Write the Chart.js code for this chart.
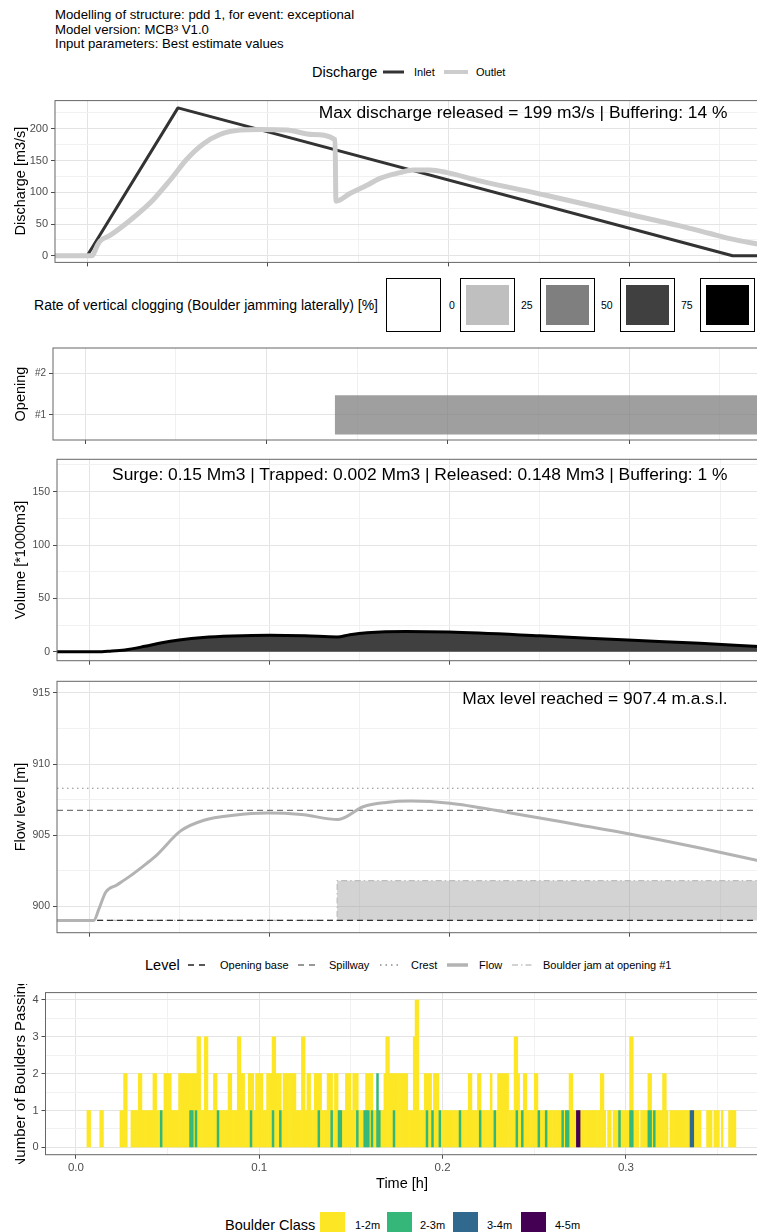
<!DOCTYPE html>
<html>
<head>
<meta charset="utf-8">
<script src="https://cdn.jsdelivr.net/npm/chart.js@4.4.1/dist/chart.umd.min.js"></script>
<style>
html,body{margin:0;padding:0;background:#fff;overflow:hidden;width:757px;height:1232px;}
#root{position:relative;width:757px;height:1232px;overflow:hidden;font-family:"Liberation Sans",Arial,Helvetica,sans-serif;color:#000;background:#fff;}
#root canvas{position:absolute;left:0;}
.t{position:absolute;white-space:nowrap;line-height:1;}
.r{position:absolute;white-space:nowrap;line-height:1;transform:translate(-50%,-50%) rotate(-90deg);}
.box{position:absolute;box-sizing:border-box;}
svg.key{position:absolute;overflow:visible;}
</style>
</head>
<body>
<div id="root"></div>
<script>
// ================= DATA =================
const titleLines = [
  "Modelling of structure: pdd 1, for event: exceptional",
  "Model version: MCB\u00B3 V1.0",
  "Input parameters: Best estimate values"
];

// time axis [h]
const xTicks = [0, 0.1, 0.2, 0.3];
const xMinorTicks = [0.05, 0.15, 0.25, 0.35];

// Discharge panel
const inletTime = [0, 0.0502, 0.357, 0.3716];
const inletQ    = [0, 233, 0, 0];
const outletTime = [-0.0178, 0.0027, 0.0054, 0.0071, 0.0126, 0.0253, 0.0364, 0.0458, 0.0552, 0.0640, 0.0734, 0.0845, 0.0956, 0.1105, 0.1249, 0.1371, 0.1376, 0.1453, 0.1547, 0.1619, 0.1730, 0.1802, 0.1896, 0.1990, 0.2172, 0.2543, 0.3002, 0.3279, 0.3445, 0.3555, 0.3716];
const outletQ    = [0, 0, 15, 23, 32, 59.5, 88, 119, 152.5, 175.8, 191, 198, 199, 198, 191, 183, 86, 98, 111, 122, 131, 135, 135, 131, 118, 95, 65, 47, 35, 27, 18];
const dischargeTicks = [0, 50, 100, 150, 200];
const dischargeMinor = [25, 75, 125, 175, 225];

// Clogging panel
const openingLabels = ["#1", "#2"];
const clogOpening = 1;
const clogStart = 0.1376;
const clogEnd = 0.3716;
const clogLegendValues = ["0", "25", "50", "75", "100"];
const clogLegendColors = ["#ffffff", "#bfbfbf", "#7f7f7f", "#404040", "#000000"];

// Volume panel [*1000 m3]
const volumeTime = [-0.0178, 0.0044, 0.0116, 0.0199, 0.0310, 0.0404, 0.0499, 0.0632, 0.0793, 0.1003, 0.1198, 0.1376, 0.1447, 0.1541, 0.1758, 0.1996, 0.2501, 0.2989, 0.3388, 0.3716];
const volume     = [0, 0, 0.6, 1.8, 5.2, 8.5, 11, 13.4, 14.8, 15.5, 15.0, 13.9, 16, 17.8, 19, 18.5, 15, 11, 8, 5.0];
const volumeTicks = [0, 50, 100, 150];
const volumeMinor = [25, 75, 125, 175];

// Flow level panel [m a.s.l.]
const flowTime  = [-0.0178, 0.0027, 0.0054, 0.0093, 0.0154, 0.0225, 0.0318, 0.0375, 0.0508, 0.0637, 0.0801, 0.0989, 0.1177, 0.1381, 0.1520, 0.1647, 0.1785, 0.2001, 0.2322, 0.2726, 0.2991, 0.3389, 0.3716];
const flowLevel = [899.0, 899.0, 899.8, 901.0, 901.5, 902.1, 903.0, 903.6, 905.3, 906.05, 906.4, 906.55, 906.45, 906.1, 907.0, 907.3, 907.4, 907.25, 906.6, 905.7, 905.1, 904.1, 903.2];
const levelOpeningBase = 899.0;
const levelSpillway = 906.74;
const levelCrest = 908.3;
const jamTime  = [-0.0178, 0.1376, 0.1376, 0.3716];
const jamLevel = [899.0, 899.0, 901.8, 901.8];
const levelTicks = [900, 905, 910, 915];
const levelMinor = [902.5, 907.5, 912.5];

// Boulder panel: number of boulders per 0.001 h bin
const binWidth = 0.001;
const boulderTotal = [
0,0,0,0,0,0,1,1,0,0,
0,0,0,1,1,0,0,0,0,0,
0,0,0,0,1,1,2,2,0,0,
1,1,1,1,2,2,1,1,1,1,
1,1,2,2,1,1,1,1,2,2,
2,2,1,1,1,1,2,2,2,2,
2,2,2,2,2,2,3,3,1,1,
3,3,1,1,1,2,2,1,1,1,
1,1,1,2,2,1,1,1,3,3,
2,2,1,1,2,2,2,1,2,2,
2,2,1,1,2,2,2,3,3,2,
2,2,1,2,2,2,2,2,2,2,
1,1,1,3,3,1,2,2,1,1,
2,2,2,2,1,1,1,2,2,2,
1,2,2,1,1,1,1,2,2,2,
1,2,2,2,1,1,1,1,2,2,
2,2,1,1,2,1,1,1,2,3,
3,2,2,2,2,2,2,2,2,2,
2,1,1,1,3,4,4,1,1,1,
2,2,2,2,1,2,2,2,1,1,
1,1,1,1,1,1,1,1,1,1,
1,1,1,1,2,2,1,1,1,2,
2,1,1,1,1,1,2,1,1,1,
2,2,2,2,2,2,1,1,1,3,
3,2,1,1,2,2,1,1,1,1,
2,2,1,1,1,1,1,1,1,1,
1,1,1,1,1,1,1,1,1,2,
2,1,1,1,1,1,1,1,1,1,
1,1,1,1,1,1,2,2,1,0,
1,1,0,1,1,1,1,1,1,1,
1,1,3,3,1,1,1,0,1,1,
1,1,2,2,1,1,1,1,1,1,
2,2,1,0,1,1,1,1,1,1,
1,1,1,1,1,1,1,1,1,1,
1,0,0,0,1,1,1,0,1,1,
1,0,1,0,0,0,1,1,1,1,
0,0,0,0,0,0,0,0,0,0
];
const bins23 = [46,62,63,65,77,95,107,111,132,139,143,144,153,157,158,159,161,164,164,165,173,191,194,198,209,220,228,240,243,252,256,265,267,268,296,302,303,312,313,315];
const bins34 = [335,336];
const bins45 = [273,274];
const boulderClasses = ["1-2m", "2-3m", "3-4m", "4-5m"];
const boulderColors  = ["#FDE725", "#35B779", "#31688E", "#440154"];
const boulderTicks = [0, 1, 2, 3, 4];
const boulderMinor = [0.5, 1.5, 2.5, 3.5];

// ================= HELPERS =================
const root = document.getElementById('root');
function txt(s, x, y, size, opts) {
  opts = opts || {};
  const d = document.createElement('div');
  d.className = 't';
  d.textContent = s;
  d.style.fontSize = size + 'px';
  d.style.top = (y - size / 2) + 'px';
  if (opts.align === 'right') d.style.right = (757 - x) + 'px';
  else if (opts.align === 'center') { d.style.left = x + 'px'; d.style.transform = 'translateX(-50%)'; }
  else d.style.left = x + 'px';
  if (opts.color) d.style.color = opts.color;
  (opts.parent || root).appendChild(d);
  return d;
}
function rtxt(s, cx, cy, size, parent) {
  const d = document.createElement('div');
  d.className = 'r';
  d.textContent = s;
  d.style.fontSize = size + 'px';
  d.style.left = cx + 'px';
  d.style.top = cy + 'px';
  (parent || root).appendChild(d);
  return d;
}
function keyLine(x1, x2, y, color, width, dash) {
  const ns = 'http://www.w3.org/2000/svg';
  const s = document.createElementNS(ns, 'svg');
  s.setAttribute('class', 'key');
  s.setAttribute('width', x2 - x1);
  s.setAttribute('height', 10);
  s.style.left = x1 + 'px';
  s.style.top = (y - 5) + 'px';
  const l = document.createElementNS(ns, 'line');
  l.setAttribute('x1', 0); l.setAttribute('x2', x2 - x1);
  l.setAttribute('y1', 5); l.setAttribute('y2', 5);
  l.setAttribute('stroke', color);
  l.setAttribute('stroke-width', width);
  if (dash) l.setAttribute('stroke-dasharray', dash);
  s.appendChild(l);
  root.appendChild(s);
}
function box(x, y, w, h, bg, border) {
  const d = document.createElement('div');
  d.className = 'box';
  d.style.left = x + 'px'; d.style.top = y + 'px';
  d.style.width = w + 'px'; d.style.height = h + 'px';
  d.style.background = bg;
  if (border) d.style.border = border;
  root.appendChild(d);
  return d;
}

// ================= CHART SETUP =================
Chart.defaults.font.family = '"Liberation Sans", Arial, sans-serif';
Chart.defaults.color = '#4d4d4d';

const borderPlugin = {
  id: 'panelBorder',
  afterDatasetsDraw(chart) {
    const a = chart.chartArea, c = chart.ctx;
    c.save();
    c.strokeStyle = '#666666';
    c.lineWidth = 1;
    c.strokeRect(a.left, a.top, a.right - a.left, a.bottom - a.top);
    c.restore();
  }
};

const near = (arr, v) => arr.some(t => Math.abs(t - v) < 1e-9);
const pts = (xs, ys) => xs.map((x, i) => ({ x: x, y: ys[i] }));

function makePanel(p) {
  const cTop = Math.floor(p.top) - 8;
  const xH = p.xLabels ? 28 : 8;
  const H = Math.ceil(p.bottom - cTop + xH);
  const padBottom = H - xH - (p.bottom - cTop);
  const cv = document.createElement('canvas');
  cv.width = 760; cv.height = H;
  cv.style.width = '760px'; cv.style.height = H + 'px';
  cv.style.top = cTop + 'px';
  root.appendChild(cv);
  const xVals = xTicks.concat(xMinorTicks).sort((a, b) => a - b);
  const yVals = p.yMajor.concat(p.yMinor || []).sort((a, b) => a - b);
  const gridX = {
    offset: false, drawTicks: true, tickLength: 4, lineWidth: 1, tickWidth: 1,
    color: c => (c.tick && near(xTicks, c.tick.value)) ? '#e4e4e4' : '#f1f1f1',
    tickColor: c => (c.tick && near(xTicks, c.tick.value)) ? '#4d4d4d' : 'rgba(0,0,0,0)'
  };
  const gridY = {
    offset: false, drawTicks: true, tickLength: 4, lineWidth: 1, tickWidth: 1,
    color: c => (c.tick && near(p.yMajor, c.tick.value)) ? '#e4e4e4' : '#f1f1f1',
    tickColor: c => (c.tick && near(p.yMajor, c.tick.value)) ? '#4d4d4d' : 'rgba(0,0,0,0)'
  };
  return new Chart(cv, {
    type: p.type || 'line',
    data: { datasets: p.datasets },
    options: {
      responsive: false, maintainAspectRatio: false, animation: false, devicePixelRatio: 1,
      events: [],
      layout: { padding: { top: p.top - cTop, left: 0, right: 1, bottom: padBottom } },
      plugins: { legend: { display: false }, tooltip: { enabled: false } },
      elements: { point: { radius: 0 }, line: { tension: 0 } },
      scales: {
        x: {
          type: 'linear', min: p.xMin, max: p.xMax, offset: false, stacked: !!p.stacked,
          afterBuildTicks: s => { s.ticks = xVals.map(v => ({ value: v })); },
          afterFit: s => { s.height = xH; },
          grid: gridX,
          border: { display: false },
          ticks: {
            display: !!p.xLabels, autoSkip: false, maxRotation: 0, minRotation: 0, padding: 2,
            font: { size: 11.5 }, color: '#4d4d4d',
            callback: v => near(xTicks, v) ? v.toFixed(1) : ''
          }
        },
        y: {
          type: 'linear', min: p.yMin, max: p.yMax, stacked: !!p.stacked,
          afterBuildTicks: s => { s.ticks = yVals.map(v => ({ value: v })); },
          afterFit: s => { s.width = p.left; },
          grid: gridY,
          border: { display: false },
          ticks: {
            autoSkip: false, padding: 3, font: { size: p.tickSize }, color: '#4d4d4d',
            callback: v => near(p.yMajor, v) ? (p.yLabel ? p.yLabel(v) : String(v)) : ''
          }
        }
      }
    },
    plugins: [borderPlugin]
  });
}

const xMinTop = -0.0178, xMaxTop = 0.3716;
const xMinBot = -0.0166, xMaxBot = 0.3726;

// ---- Panel 1: Discharge ----
makePanel({
  top: 99, bottom: 263.5, left: 55, xMin: xMinTop, xMax: xMaxTop,
  yMin: -10.5, yMax: 244.5, yMajor: dischargeTicks, yMinor: dischargeMinor, tickSize: 11,
  datasets: [
    { label: 'Outlet', data: pts(outletTime, outletQ), borderColor: '#cccccc', borderWidth: 5,
      cubicInterpolationMode: 'monotone', fill: false, borderJoinStyle: 'round' },
    { label: 'Inlet', data: pts(inletTime, inletQ), borderColor: '#333333', borderWidth: 3,
      fill: false, borderJoinStyle: 'round' }
  ]
});

// ---- Panel 2: Opening clogging ----
makePanel({
  top: 347, bottom: 441, left: 53, xMin: xMinTop, xMax: xMaxTop,
  yMin: 0.4, yMax: 2.6, yMajor: [1, 2], yMinor: [], tickSize: 10,
  yLabel: v => openingLabels[v - 1],
  datasets: [
    { label: 'Opening #1', data: [{ x: clogStart, y: clogOpening + 0.47 }, { x: clogEnd, y: clogOpening + 0.47 }],
      borderColor: 'rgba(0,0,0,0)', borderWidth: 0, fill: { value: clogOpening - 0.47 },
      backgroundColor: 'rgba(127,127,127,0.75)' }
  ]
});

// ---- Panel 3: Volume ----
makePanel({
  top: 458, bottom: 661.7, left: 57, xMin: xMinTop, xMax: xMaxTop,
  yMin: -8.3, yMax: 180.3, yMajor: volumeTicks, yMinor: volumeMinor, tickSize: 10.5,
  datasets: [
    { label: 'Volume', data: pts(volumeTime, volume), borderColor: '#000000', borderWidth: 3,
      cubicInterpolationMode: 'monotone', fill: 'origin', backgroundColor: '#404040' }
  ]
});

// ---- Panel 4: Flow level ----
makePanel({
  top: 680, bottom: 933.3, left: 57, xMin: xMinTop, xMax: xMaxTop,
  yMin: 898.14, yMax: 915.82, yMajor: levelTicks, yMinor: levelMinor, tickSize: 10.5,
  datasets: [
    { label: 'Flow', data: pts(flowTime, flowLevel), borderColor: '#b3b3b3', borderWidth: 3,
      cubicInterpolationMode: 'monotone', fill: false },
    { label: 'Opening base', data: [{ x: xMinTop, y: levelOpeningBase }, { x: xMaxTop, y: levelOpeningBase }],
      borderColor: '#333333', borderWidth: 1.3, borderDash: [6, 4], fill: false },
    { label: 'Spillway', data: [{ x: xMinTop, y: levelSpillway }, { x: xMaxTop, y: levelSpillway }],
      borderColor: '#777777', borderWidth: 1.3, borderDash: [6, 4], fill: false },
    { label: 'Crest', data: [{ x: xMinTop, y: levelCrest }, { x: xMaxTop, y: levelCrest }],
      borderColor: '#8a8a8a', borderWidth: 1.2, borderDash: [1.5, 3.5], fill: false },
    { label: 'Boulder jam at opening #1', data: pts(jamTime, jamLevel), borderColor: '#bdbdbd',
      borderWidth: 1.2, borderDash: [6, 3, 1.5, 3], fill: { value: levelOpeningBase },
      backgroundColor: 'rgba(150,150,150,0.42)' }
  ]
});

// ---- Panel 5: Boulders ----
const nb = boulderTotal.length;
const c23 = new Array(nb).fill(0), c34 = new Array(nb).fill(0), c45 = new Array(nb).fill(0);
bins23.forEach(b => c23[b]++);
bins34.forEach(b => c34[b]++);
bins45.forEach(b => c45[b]++);
const c12 = boulderTotal.map((n, i) => n - c23[i] - c34[i] - c45[i]);
const binSeries = arr => arr.map((n, i) => ({ x: (i + 0.5) * binWidth, y: n > 0 ? n : null }));
const barBase = { barPercentage: 1, categoryPercentage: 1, borderWidth: 0 };
makePanel({
  type: 'bar', stacked: true, xLabels: true,
  top: 991.7, bottom: 1154.7, left: 45.5, xMin: xMinBot, xMax: xMaxBot,
  yMin: -0.2, yMax: 4.2, yMajor: boulderTicks, yMinor: boulderMinor, tickSize: 11,
  datasets: [
    Object.assign({ label: boulderClasses[3], data: binSeries(c45), backgroundColor: boulderColors[3] }, barBase),
    Object.assign({ label: boulderClasses[2], data: binSeries(c34), backgroundColor: boulderColors[2] }, barBase),
    Object.assign({ label: boulderClasses[1], data: binSeries(c23), backgroundColor: boulderColors[1] }, barBase),
    Object.assign({ label: boulderClasses[0], data: binSeries(c12), backgroundColor: boulderColors[0] }, barBase)
  ]
});

// ================= TEXT, LEGENDS =================
titleLines.forEach((s, i) => txt(s, 55, 15 + i * 14.5, 13.2));

// Discharge legend
txt('Discharge', 312, 72, 14.5);
keyLine(383, 404, 72, '#333333', 3);
txt('Inlet', 414, 72, 11);
keyLine(444, 468, 72, '#cccccc', 4);
txt('Outlet', 476, 72, 11);

// annotations
txt('Max discharge released = 199 m3/s | Buffering: 14 %', 727.5, 113, 17.4, { align: 'right' });
txt('Surge: 0.15 Mm3 | Trapped: 0.002 Mm3 | Released: 0.148 Mm3 | Buffering: 1 %', 727.5, 475, 17.4, { align: 'right' });
txt('Max level reached = 907.4 m.a.s.l.', 727.5, 699, 17.4, { align: 'right' });

// Clogging legend
txt('Rate of vertical clogging (Boulder jamming laterally) [%]', 378, 305, 14, { align: 'right' });
const clogBoxX = [386, 460, 540, 620, 700];
const clogLabX = [449, 521, 601, 681, 764];
clogBoxX.forEach((x, i) => {
  box(x, 278, 55, 54, '#ffffff', '1.5px solid #000');
  box(x + 6, 285, 43, 40, clogLegendColors[i]);
  txt(clogLegendValues[i], clogLabX[i], 305, 10.5);
});

// Level legend
txt('Level', 145, 965, 14.5);
keyLine(188, 208, 965, '#222222', 1.5, '6,5');
txt('Opening base', 220, 965, 11);
keyLine(298, 318, 965, '#777777', 1.5, '6,5');
txt('Spillway', 329, 965, 11);
keyLine(380, 400, 965, '#8a8a8a', 1.5, '1.5,4');
txt('Crest', 411, 965, 11);
keyLine(447, 468, 965, '#b3b3b3', 3.5);
txt('Flow', 479, 965, 11);
keyLine(512, 532, 965, '#c4c4c4', 1.5, '6,3,1.5,3');
txt('Boulder jam at opening #1', 543, 965, 11);

// Boulder legend
txt('Boulder Class', 225, 1225, 14.5);
const bBoxX = [320, 386.5, 453, 521];
const bLabX = [355, 420, 487, 555];
boulderClasses.forEach((c, i) => {
  box(bBoxX[i], 1212, 25, 25, boulderColors[i]);
  txt(c, bLabX[i], 1225, 11);
});

// Axis titles
rtxt('Discharge [m3/s]', 20, 181, 14.5);
rtxt('Opening', 20, 394, 14.5);
rtxt('Volume [*1000m3]', 20, 560, 14.5);
rtxt('Flow level [m]', 20, 806.7, 14.5);
const clip = document.createElement('div');
clip.style.cssText = 'position:absolute;left:0;top:984px;width:40px;height:180px;overflow:hidden;';
root.appendChild(clip);
rtxt('Number of Boulders Passing', 19, 1073 - 984, 15, clip);
txt('Time [h]', 402, 1183, 14.5, { align: 'center' });
</script>
</body>
</html>
